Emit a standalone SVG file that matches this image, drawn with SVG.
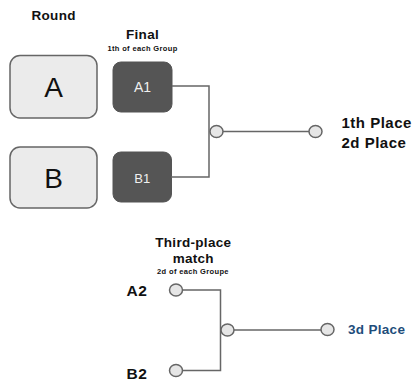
<svg xmlns="http://www.w3.org/2000/svg" width="416" height="383" viewBox="0 0 416 383">
<style>
text{font-family:"Liberation Sans",Arial,sans-serif}
.b{font-weight:bold;fill:#111}
.h{font-size:13.5px;letter-spacing:0.3px}
.s{font-size:7.5px;letter-spacing:0.35px}
.p{font-size:15px;letter-spacing:0.5px}
.grp{fill:#ebebeb;stroke:#666;stroke-width:1.5}
.dk{fill:#555;stroke:#555;stroke-width:1}
.wt{fill:#f0f0f0;text-anchor:middle}
.ln{fill:none;stroke:#666;stroke-width:1.5}
.dot{fill:#e6e6e6;stroke:#666;stroke-width:1.5}
</style>
<rect width="416" height="383" fill="#fff"/>
<text class="b h" x="31.5" y="20">Round</text>
<text class="b h" x="142.5" y="39" text-anchor="middle">Final</text>
<text class="b s" x="142.5" y="50.5" text-anchor="middle">1th of each Group</text>
<g id="groupA"><rect class="grp" x="10" y="55.5" width="87" height="62.5" rx="10"/><text x="53.5" y="97" font-size="28" text-anchor="middle" fill="#111">A</text></g>
<g id="groupB"><rect class="grp" x="10" y="147" width="87" height="61" rx="10"/><text x="53.5" y="188" font-size="28" text-anchor="middle" fill="#111">B</text></g>
<g id="A1"><rect class="dk" x="113" y="62" width="59" height="50" rx="8"/><text class="wt" x="142.5" y="92" font-size="14">A1</text></g>
<g id="B1"><rect class="dk" x="113" y="152" width="58.5" height="50" rx="8"/><text class="wt" x="142.3" y="182.5" font-size="13">B1</text></g>
<g id="connectors">
<path class="ln" d="M172 86H209V177H171"/>
<path class="ln" d="M216.5 131.5H309"/>
<path class="ln" d="M182.5 290H220.5V370.5H182.5"/>
<path class="ln" d="M234 330H321"/>
</g>
<g id="final-join"><ellipse class="dot" cx="216.5" cy="131.5" rx="6.5" ry="6"/></g>
<g id="final-out"><ellipse class="dot" cx="315.5" cy="131.5" rx="6.5" ry="6"/></g>
<text class="b p" x="341.5" y="127.5">1th Place</text>
<text class="b p" x="341.5" y="147.5">2d Place</text>
<text class="b h" x="193.3" y="246.5" text-anchor="middle">Third-place</text>
<text class="b h" x="193.3" y="263" text-anchor="middle">match</text>
<text class="b s" x="193" y="274" text-anchor="middle">2d of each Groupe</text>
<g id="A2"><text class="b" x="126.5" y="295.5" font-size="15.5" letter-spacing="0.6">A2</text><ellipse class="dot" cx="176" cy="290" rx="6.5" ry="6"/></g>
<g id="B2"><text class="b" x="126.5" y="378.5" font-size="15.5" letter-spacing="0.6">B2</text><ellipse class="dot" cx="176" cy="370.5" rx="6.5" ry="6"/></g>
<g id="third-join"><ellipse class="dot" cx="227.5" cy="330" rx="6.5" ry="6"/></g>
<g id="third-out"><ellipse class="dot" cx="327.5" cy="329.5" rx="6.5" ry="6"/></g>
<text x="348" y="334" font-size="13.5" letter-spacing="0.3" font-weight="bold" fill="#1e4d7b">3d Place</text>
</svg>
